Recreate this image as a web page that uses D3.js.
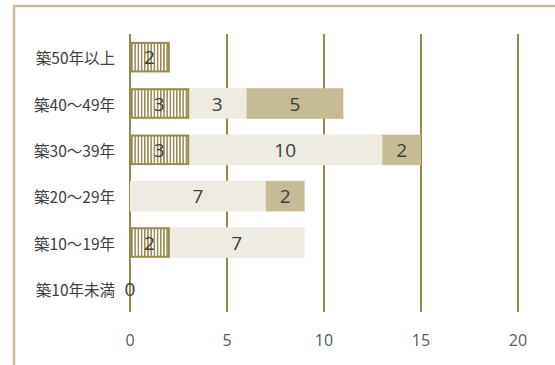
<!DOCTYPE html>
<html lang="ja">
<head>
<meta charset="UTF-8" />
<title>築年数別</title>
<script src="https://d3js.org/d3.v7.min.js"></script>
<style>
  body { margin: 0; background: #fff; }
  svg { display: block; font-family: "Open Sans", "Noto Sans CJK JP", sans-serif; }
  .cat text { font-family: "Noto Sans CJK JP", sans-serif; font-size: 15.5px; fill: #404040; }
  .tick-lbl { font-size: 16px; fill: #595959; }
  .val { font-size: 19px; fill: #404040; }
</style>
</head>
<body>
<svg width="555" height="365"></svg>
<script>
  // カテゴリ（上から）
  const categories = ["築50年以上", "築40～49年", "築30～39年", "築20～29年", "築10～19年", "築10年未満"];
  // 系列
  const seriesA = [2, 3, 3, 0, 2, 0];
  const seriesB = [0, 3, 10, 7, 7, 0];
  const seriesC = [0, 5, 2, 2, 0, 0];
  const xTicks = [0, 5, 10, 15, 20];

  const svg = d3.select("svg");

  // 外枠
  svg.append("path")
    .attr("d", "M14,365 V6 H555")
    .attr("fill", "none")
    .attr("stroke", "#c9bd96")
    .attr("stroke-width", 2.5);

  const x = d3.scaleLinear().domain([0, 20]).range([130, 518]);
  const y = d3.scaleBand().domain(categories).range([34, 312]).paddingInner(0.34).paddingOuter(0.17);

  // 縞模様
  const defs = svg.append("defs");
  const pat = defs.append("pattern")
    .attr("id", "hatch")
    .attr("patternUnits", "userSpaceOnUse")
    .attr("width", 3.2).attr("height", 10);
  pat.append("rect").attr("width", 3.2).attr("height", 10).attr("fill", "#fff");
  pat.append("rect").attr("x", 0).attr("width", 1.5).attr("height", 10).attr("fill", "#978a50");

  // グリッド線
  svg.append("g").selectAll("line").data(xTicks).join("line")
    .attr("x1", d => x(d)).attr("x2", d => x(d))
    .attr("y1", 34).attr("y2", 312)
    .attr("stroke", "#978a50").attr("stroke-width", 2);

  const rows = categories.map((c, i) => ({ c, a: seriesA[i], b: seriesB[i], cc: seriesC[i] }));

  const bars = svg.append("g");
  // 系列B
  bars.selectAll(".b").data(rows.filter(d => d.b > 0)).join("rect")
    .attr("x", d => x(d.a)).attr("width", d => x(d.a + d.b) - x(d.a))
    .attr("y", d => y(d.c)).attr("height", y.bandwidth())
    .attr("fill", "#edebe2");
  // 系列C
  bars.selectAll(".cc").data(rows.filter(d => d.cc > 0)).join("rect")
    .attr("x", d => x(d.a + d.b)).attr("width", d => x(d.a + d.b + d.cc) - x(d.a + d.b))
    .attr("y", d => y(d.c)).attr("height", y.bandwidth())
    .attr("fill", "#c5bc97");
  // 系列A
  bars.selectAll(".a").data(rows.filter(d => d.a > 0)).join("rect")
    .attr("x", d => x(0) + 1).attr("width", d => x(d.a) - x(0) - 1)
    .attr("y", d => y(d.c) + 1).attr("height", y.bandwidth() - 2)
    .attr("fill", "url(#hatch)")
    .attr("stroke", "#978a50").attr("stroke-width", 2);

  // 値ラベル
  const labels = [];
  rows.forEach(d => {
    const cy = y(d.c) + y.bandwidth() / 2;
    if (d.a > 0) labels.push({ v: d.a, x: x(d.a / 2), y: cy });
    if (d.b > 0) labels.push({ v: d.b, x: x(d.a + d.b / 2), y: cy });
    if (d.cc > 0) labels.push({ v: d.cc, x: x(d.a + d.b + d.cc / 2), y: cy });
    if (d.a + d.b + d.cc === 0) labels.push({ v: 0, x: x(0), y: cy });
  });
  svg.append("g").selectAll("text").data(labels).join("text")
    .attr("class", "val")
    .attr("x", d => d.x).attr("y", d => d.y)
    .attr("text-anchor", "middle").attr("dominant-baseline", "central")
    .text(d => d.v);

  // カテゴリラベル
  svg.append("g").attr("class", "cat").selectAll("text").data(categories).join("text")
    .attr("x", 115).attr("y", d => y(d) + y.bandwidth() / 2)
    .attr("text-anchor", "end").attr("dominant-baseline", "central")
    .text(d => d);

  // X軸ラベル
  svg.append("g").selectAll("text").data(xTicks).join("text")
    .attr("class", "tick-lbl")
    .attr("x", d => x(d)).attr("y", 340)
    .attr("text-anchor", "middle").attr("dominant-baseline", "central")
    .text(d => d);
</script>
</body>
</html>
